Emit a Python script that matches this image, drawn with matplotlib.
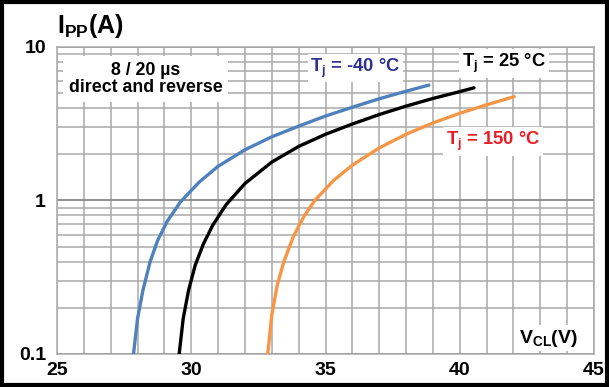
import matplotlib
matplotlib.use('Agg')

import matplotlib.pyplot as plt
from matplotlib.patches import Rectangle
from matplotlib.ticker import FixedLocator, LogLocator, NullFormatter, FixedFormatter

plt.rc('font', family = 'Liberation Sans', weight = 'bold', size = 12)
plt.rc('mathtext', default = 'regular')

# curves: V_CL [V] vs I_PP [A]
vcl_m40 = [27.85, 28.0, 28.2, 28.47, 28.75, 29.1, 29.6, 30.3, 31.0, 32.0, 33.0, 34.0, 35.0, 36.0, 37.0, 38.0, 38.85]
ipp_m40 = [0.10, 0.17, 0.26, 0.40, 0.55, 0.73, 0.98, 1.32, 1.67, 2.14, 2.6, 3.05, 3.55, 4.05, 4.6, 5.15, 5.65]

vcl_25 = [29.55, 29.7, 29.9, 30.15, 30.45, 30.8, 31.3, 32.0, 33.0, 34.0, 35.0, 36.0, 37.0, 38.0, 39.0, 40.0, 40.53]
ipp_25 = [0.10, 0.17, 0.26, 0.38, 0.52, 0.69, 0.94, 1.29, 1.78, 2.25, 2.70, 3.15, 3.63, 4.12, 4.62, 5.12, 5.42]

vcl_150 = [32.85, 33.0, 33.2, 33.45, 33.8, 34.2, 34.6, 35.3, 36.0, 37.0, 38.0, 39.0, 40.0, 41.0, 42.03]
ipp_150 = [0.10, 0.18, 0.28, 0.40, 0.58, 0.79, 1.0, 1.35, 1.70, 2.2, 2.7, 3.2, 3.7, 4.2, 4.75]

x_ticks = [25, 30, 35, 40, 45]
y_ticks = [0.1, 1, 10]
y_tick_labels = ['0.1', '1', '10']

CURVES = [
  (vcl_m40, ipp_m40, '#4f81bd'),
  (vcl_25, ipp_25, '#000000'),
  (vcl_150, ipp_150, '#f79646'),
]
GRID_COLOR = '#aaaaaa'

fig = plt.figure(figsize = (6.09, 3.87), dpi = 100)
ax = fig.add_axes([57 / 609., 1 - 354 / 387., 537 / 609., 307 / 387.])

for xs, ys, color in CURVES:
  ax.plot(xs, ys, color = color, lw = 2.4, solid_capstyle = 'round', solid_joinstyle = 'round', zorder = 3)

ax.set_yscale('log')
ax.set_xlim(25, 45)
ax.set_ylim(0.1, 10)

ax.xaxis.set_major_locator(FixedLocator(x_ticks))
ax.xaxis.set_minor_locator(FixedLocator(range(25, 46)))
ax.yaxis.set_major_locator(FixedLocator(y_ticks))
ax.yaxis.set_major_formatter(FixedFormatter(y_tick_labels))
ax.yaxis.set_minor_locator(LogLocator(base = 10, subs = range(2, 10)))
ax.yaxis.set_minor_formatter(NullFormatter())

ax.grid(True, which = 'both', color = GRID_COLOR, lw = 1.1, zorder = 0)
ax.grid(True, which = 'major', axis = 'y', color = '#888888', lw = 1.3)
ax.set_axisbelow(True)
ax.tick_params(which = 'both', length = 0)
ax.tick_params(axis = 'x', pad = 6, labelsize = 14)
ax.tick_params(axis = 'y', pad = 8, labelsize = 14)
for spine in ax.spines.values():
  spine.set_color(GRID_COLOR)
  spine.set_linewidth(1.1)

white_box = dict(facecolor = 'white', edgecolor = 'none', pad = 2)
ax.text(28.3, 6.2, '8 / 20 µs\ndirect and reverse', ha = 'center', va = 'center',
        fontsize = 12.8, linespacing = 1.05, bbox = dict(facecolor = 'white', edgecolor = 'none', pad = 4))
ax.text(36.12, 7.3, r'T$_j$ = -40 °C', ha = 'center', va = 'center', color = '#2e3192', fontsize = 13.2, bbox = white_box)
ax.text(41.64, 7.8, r'T$_j$ = 25 °C', ha = 'center', va = 'center', color = 'black', fontsize = 13.2, bbox = white_box)
ax.text(41.23, 2.43, r'T$_j$ = 150 °C', ha = 'center', va = 'center', color = '#ed1c24', fontsize = 13.2, bbox = white_box)
ax.text(43.32, 0.127, r'V$_{CL}$(V)', ha = 'center', va = 'center', fontsize = 14, bbox = white_box)
fig.text(57 / 609., 1 - 26 / 387., r'I$_{PP}$(A)', ha = 'left', va = 'center', fontsize = 18)

fig.add_artist(Rectangle((0.003, 0.004), 0.994, 0.992, transform = fig.transFigure,
                         fill = False, edgecolor = 'black', lw = 3))

fig.savefig('out.png', dpi = 100)
